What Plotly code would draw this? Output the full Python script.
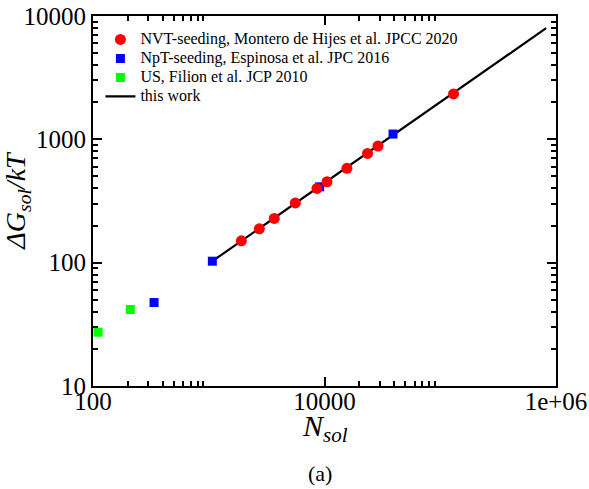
import plotly.graph_objects as go

# ---- data ----
nvt_N = [1912, 2735, 3681, 5597, 8610, 10510, 15630, 23550, 28970, 130300]
nvt_G = [150.3, 188, 228.5, 305, 400, 453, 582, 769, 883, 2334]

npt_N = [337, 1074, 9080, 39080]
npt_G = [47.5, 102.8, 412, 1104]

us_N = [110.7, 210]
us_G = [27.3, 41.7]

line_N = [1074, 822000]
line_G = [102.8, 7960]

x_major = [100, 10000, 1000000]
x_major_text = ["100", "10000", "1e+06"]
y_major = [10, 100, 1000, 10000]
y_major_text = ["10", "100", "1000", "10000"]
x_minor = [200, 300, 400, 500, 600, 700, 800, 900,
           20000, 30000, 40000, 50000, 60000, 70000, 80000, 90000]
y_minor = [20, 30, 40, 50, 60, 70, 80, 90,
           200, 300, 400, 500, 600, 700, 800, 900,
           2000, 3000, 4000, 5000, 6000, 7000, 8000, 9000]

labels = [
    "NVT-seeding, Montero de Hijes et al. JPCC 2020",
    "NpT-seeding, Espinosa et al. JPC 2016",
    "US, Filion et al. JCP 2010",
    "this work",
]

FONT = "Liberation Serif"


def leg(t):
    return '<span style="font-size:16px">' + t + '</span>'


fig = go.Figure()
fig.add_trace(go.Scatter(x=line_N, y=line_G, mode="lines",
                         line=dict(color="black", width=2.2),
                         name=leg(labels[3]), legendrank=4))
fig.add_trace(go.Scatter(x=npt_N, y=npt_G, mode="markers",
                         marker=dict(symbol="square", size=9, color="#0000ff"),
                         name=leg(labels[1]), legendrank=2))
fig.add_trace(go.Scatter(x=us_N, y=us_G, mode="markers",
                         marker=dict(symbol="square", size=9, color="#00ff00"),
                         name=leg(labels[2]), legendrank=3))
fig.add_trace(go.Scatter(x=nvt_N, y=nvt_G, mode="markers",
                         marker=dict(symbol="circle", size=11, color="#ff0000"),
                         name=leg(labels[0]), legendrank=1))

axis_common = dict(
    type="log",
    automargin=False,
    showgrid=False,
    zeroline=False,
    showline=True,
    linecolor="black",
    linewidth=2,
    mirror="ticks",
    ticks="inside",
    ticklen=9,
    tickwidth=2,
    tickcolor="black",
    tickmode="array",
    tickfont=dict(family=FONT, size=25, color="black"),
)

fig.update_xaxes(
    **axis_common,
    range=[2, 6],
    tickvals=x_major,
    ticktext=x_major_text,
    ticklabelstandoff=-8,
    minor=dict(tickmode="array", tickvals=x_minor, ticks="inside",
               ticklen=5, tickwidth=2, tickcolor="black", showgrid=False),
)
fig.update_yaxes(
    **axis_common,
    range=[1, 4],
    tickvals=y_major,
    ticktext=y_major_text,
    minor=dict(tickmode="array", tickvals=y_minor, ticks="inside",
               ticklen=5, tickwidth=2, tickcolor="black", showgrid=False),
    title=dict(text="<i>ΔG</i><sub><i>sol</i></sub><i>/kT</i>",
               font=dict(family=FONT, size=28, color="black"), standoff=4),
)

# x-axis title (as annotation for precise placement)
fig.add_annotation(text="<i>N</i><sub><i>sol</i></sub>", xref="paper", yref="paper",
                   x=0.5, y=-0.056, xanchor="center", yanchor="top",
                   showarrow=False, font=dict(family=FONT, size=30, color="black"))

fig.add_annotation(text="(a)", xref="paper", yref="paper",
                   x=0.49, y=-0.236, xanchor="center", yanchor="middle",
                   showarrow=False, font=dict(family=FONT, size=22, color="black"))

fig.update_layout(
    width=589, height=489,
    margin=dict(l=93, r=33, t=16, b=103),
    paper_bgcolor="white", plot_bgcolor="white",
    font=dict(family=FONT, color="black"),
    showlegend=True,
    legend=dict(x=0.016, y=0.976, xanchor="left", yanchor="top",
                bgcolor="rgba(0,0,0,0)", borderwidth=0,
                font=dict(family=FONT, size=12, color="black")),
)

fig.write_html("out.html")
